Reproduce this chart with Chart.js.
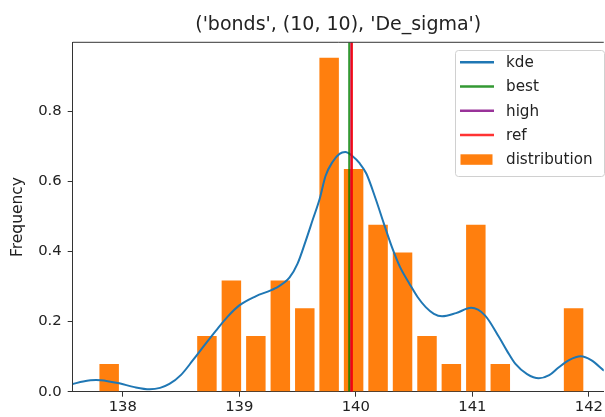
<!DOCTYPE html>
<html>
<head>
<meta charset="utf-8">
<script src="https://cdn.jsdelivr.net/npm/chart.js@4/dist/chart.umd.min.js"></script>
<style>
  html, body { margin: 0; padding: 0; background: #fff; }
  canvas { display: block; }
</style>
</head>
<body>
<canvas id="kdeChart" width="605" height="417"></canvas>
<script>
// histogram bins (centers) and density heights
const binCenters = [137.883, 138.722, 138.932, 139.142, 139.352, 139.562, 139.771, 139.981, 140.191, 140.401, 140.611, 140.820, 141.030, 141.240, 141.869];
const binHeights = [0.079, 0.159, 0.317, 0.159, 0.317, 0.238, 0.952, 0.635, 0.476, 0.397, 0.159, 0.079, 0.476, 0.079, 0.238];

// kde curve
const kdeX = [137.57, 137.66, 137.77, 137.87, 137.97, 138.10, 138.23, 138.32, 138.40, 138.50, 138.60, 138.70, 138.80, 138.90, 139.00, 139.14, 139.31, 139.43, 139.50, 139.57, 139.63, 139.69, 139.74, 139.80, 139.86, 139.91, 139.97, 140.03, 140.09, 140.17, 140.24, 140.31, 140.38, 140.46, 140.53, 140.60, 140.67, 140.74, 140.86, 140.99, 141.11, 141.23, 141.30, 141.37, 141.47, 141.57, 141.66, 141.74, 141.83, 141.93, 142.02, 142.13];
const kdeY = [0.022, 0.029, 0.033, 0.030, 0.024, 0.013, 0.007, 0.011, 0.022, 0.048, 0.089, 0.132, 0.174, 0.214, 0.246, 0.272, 0.295, 0.325, 0.365, 0.430, 0.490, 0.550, 0.615, 0.655, 0.678, 0.683, 0.672, 0.652, 0.622, 0.550, 0.480, 0.412, 0.355, 0.308, 0.270, 0.241, 0.222, 0.215, 0.224, 0.239, 0.217, 0.155, 0.115, 0.079, 0.050, 0.038, 0.047, 0.069, 0.090, 0.101, 0.090, 0.060];

const bestValue = 139.943;
const highValue = 139.962;
const refValue = 139.965;

const xTicks = [138, 139, 140, 141, 142];
const yTicks = [0.0, 0.2, 0.4, 0.6, 0.8];
const xMin = 137.57, xMax = 142.128;
const yMin = 0, yMax = 0.996;

const titleText = "('bonds', (10, 10), 'De_sigma')";

Chart.defaults.font.family = "'DejaVu Sans', sans-serif";
Chart.defaults.color = "#222";

function vline(v) {
  return [{ x: v, y: yMin }, { x: v, y: yMax }];
}

// matplotlib-like legend in the upper right corner of the axes
const boxLegend = {
  id: "boxLegend",
  afterDraw(chart) {
    const ctx = chart.ctx;
    const x0 = 455, y0 = 50, w = 149, h = 126;
    ctx.save();
    ctx.beginPath();
    ctx.roundRect(x0 + 0.5, y0 + 0.5, w, h, 3);
    ctx.fillStyle = "rgba(255,255,255,0.8)";
    ctx.fill();
    ctx.strokeStyle = "#d0d0d0";
    ctx.lineWidth = 1;
    ctx.stroke();
    ctx.font = "15.2px 'DejaVu Sans'";
    ctx.textBaseline = "middle";
    chart.data.datasets.forEach((ds, i) => {
      const y = 62.3 + i * 24.25;
      if (ds.type === "bar") {
        ctx.fillStyle = ds.backgroundColor;
        ctx.fillRect(460.5, y - 5, 32, 10.5);
      } else {
        ctx.strokeStyle = ds.borderColor;
        ctx.lineWidth = 2.5;
        ctx.beginPath();
        ctx.moveTo(460, y);
        ctx.lineTo(494, y);
        ctx.stroke();
      }
      ctx.fillStyle = "#222";
      ctx.fillText(ds.label, 506, y + 1);
    });
    ctx.restore();
  },
};

// top spine
const topSpine = {
  id: "topSpine",
  afterDraw(chart) {
    const a = chart.chartArea;
    const ctx = chart.ctx;
    ctx.save();
    ctx.strokeStyle = "#333";
    ctx.lineWidth = 1;
    ctx.beginPath();
    ctx.moveTo(a.left, a.top);
    ctx.lineTo(a.right, a.top);
    ctx.stroke();
    ctx.restore();
  },
};

const ctx = document.getElementById("kdeChart").getContext("2d");
new Chart(ctx, {
  type: "bar",
  data: {
    datasets: [
      {
        type: "line",
        label: "kde",
        data: kdeX.map((x, i) => ({ x: x, y: kdeY[i] })),
        borderColor: "#1f77b4",
        borderWidth: 2,
        pointRadius: 0,
        cubicInterpolationMode: "monotone",
        order: 4,
      },
      {
        type: "line",
        label: "best",
        data: vline(bestValue),
        borderColor: "rgba(0,128,0,0.8)",
        borderWidth: 2,
        pointRadius: 0,
        order: 3,
      },
      {
        type: "line",
        label: "high",
        data: vline(highValue),
        borderColor: "rgba(128,0,128,0.8)",
        borderWidth: 2,
        pointRadius: 0,
        order: 2,
      },
      {
        type: "line",
        label: "ref",
        data: vline(refValue),
        borderColor: "rgba(255,0,0,0.8)",
        borderWidth: 2.5,
        pointRadius: 0,
        order: 1,
      },
      {
        type: "bar",
        label: "distribution",
        data: binCenters.map((x, i) => ({ x: x, y: binHeights[i] })),
        backgroundColor: "#ff7f0e",
        borderWidth: 0,
        barPercentage: 0.8,
        categoryPercentage: 1.0,
        order: 5,
      },
    ],
  },
  options: {
    responsive: false,
    animation: false,
    devicePixelRatio: 1,
    layout: { padding: 0 },
    plugins: {
      legend: { display: false },
      tooltip: { enabled: false },
      title: {
        display: true,
        text: titleText,
        fullSize: false,
        color: "#222",
        font: { size: 19, weight: "normal" },
        padding: { top: 14, bottom: 5.5 },
      },
    },
    scales: {
      x: {
        type: "linear",
        min: xMin,
        max: xMax,
        offset: false,
        afterBuildTicks: (s) => { s.ticks = xTicks.map((v) => ({ value: v })); },
        afterFit: (s) => { s.height = 25.3; },
        grid: { drawOnChartArea: false, drawTicks: true, tickLength: 5, color: "#333", offset: false },
        border: { display: true, color: "#333", width: 1 },
        ticks: {
          color: "#222",
          font: { size: 14.8 },
          padding: 2,
          maxRotation: 0,
          callback: (v) => String(v),
        },
      },
      y: {
        min: yMin,
        max: yMax,
        afterBuildTicks: (s) => { s.ticks = yTicks.map((v) => ({ value: v })); },
        afterFit: (s) => { s.width = 72.7; },
        grid: { drawOnChartArea: false, drawTicks: true, tickLength: 5, color: "#333" },
        border: { display: true, color: "#333", width: 1 },
        title: {
          display: true,
          text: "Frequency",
          color: "#222",
          font: { size: 15.5 },
          padding: { top: 9, bottom: 0 },
        },
        ticks: {
          color: "#222",
          font: { size: 14.8 },
          padding: 6,
          callback: (v) => Number(v).toFixed(1),
        },
      },
    },
  },
  plugins: [topSpine, boxLegend],
});
</script>
</body>
</html>
